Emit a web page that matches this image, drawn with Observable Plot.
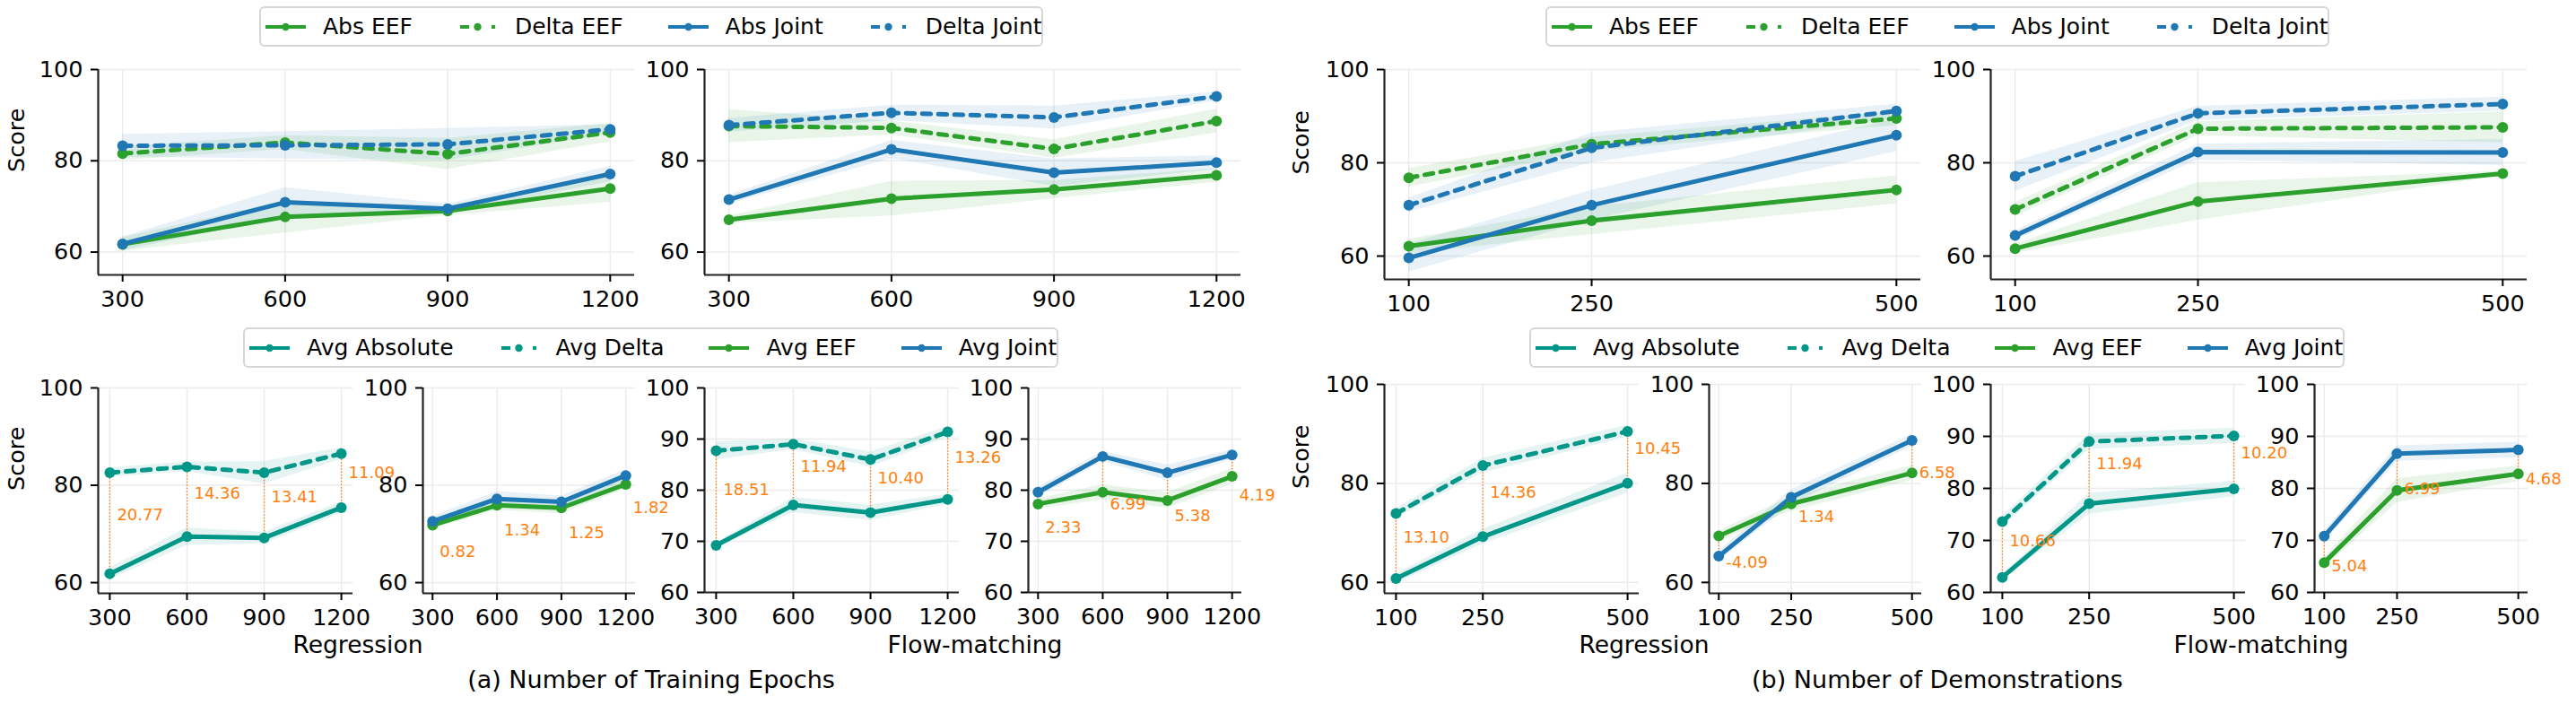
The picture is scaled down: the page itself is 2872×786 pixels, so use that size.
<!DOCTYPE html>
<html>
<head>
<meta charset="utf-8">
<script src="https://cdn.jsdelivr.net/npm/d3@7"></script>
<script src="https://cdn.jsdelivr.net/npm/@observablehq/plot@0.6"></script>
<style>
html,body{margin:0;padding:0;background:#fff;}
#root{position:relative;width:2872px;height:786px;overflow:hidden;font-family:"DejaVu Sans",sans-serif;color:#000;}
#root svg{overflow:visible !important;background:transparent !important;max-width:none !important;}
.legend{position:absolute;box-sizing:border-box;height:45px;border:2px solid #d6d6d6;border-radius:6px;background:#fff;display:flex;align-items:center;padding-left:5px;font-size:25px;white-space:nowrap;}
.legend svg{flex:none;}
.lbl{position:absolute;width:700px;text-align:center;line-height:1;white-space:nowrap;}
</style>
</head>
<body>
<div id="root"></div>
<script>
// ---------------- data ----------------
const epochs = [300, 600, 900, 1200];
const demos = [100, 250, 500];
const yTicksWide = [60, 80, 100];
const yTicksFine = [60, 70, 80, 90, 100];

// (a) training epochs — top row, Regression
const epRegAbsEEF = [61.7, 67.7, 69.0, 73.9];
const epRegAbsEEFSd = [1.5, 3.5, 1.0, 3.0];
const epRegDeltaEEF = [81.6, 84.0, 81.5, 86.2];
const epRegDeltaEEFSd = [1.5, 1.5, 3.4, 2.0];
const epRegAbsJoint = [61.8, 70.9, 69.5, 77.1];
const epRegAbsJointSd = [1.5, 3.2, 1.0, 1.7];
const epRegDeltaJoint = [83.3, 83.4, 83.6, 86.9];
const epRegDeltaJointSd = [2.5, 3.0, 3.5, 1.0];
// (a) top row, Flow-matching
const epFlowAbsEEF = [67.1, 71.7, 73.7, 76.8];
const epFlowAbsEEFSd = [0.8, 3.8, 2.0, 1.5];
const epFlowDeltaEEF = [87.6, 87.2, 82.6, 88.7];
const epFlowDeltaEEFSd = [3.6, 1.5, 2.0, 2.6];
const epFlowAbsJoint = [71.5, 82.5, 77.4, 79.6];
const epFlowAbsJointSd = [1.0, 2.0, 3.0, 1.5];
const epFlowDeltaJoint = [87.8, 90.5, 89.5, 94.1];
const epFlowDeltaJointSd = [1.5, 1.7, 2.5, 1.0];
// (b) demonstrations — top row, Regression
const dmRegAbsEEF = [62.1, 67.6, 74.2];
const dmRegAbsEEFSd = [1.5, 3.0, 3.0];
const dmRegDeltaEEF = [76.8, 84.0, 89.5];
const dmRegDeltaEEFSd = [2.0, 1.5, 1.5];
const dmRegAbsJoint = [59.6, 70.9, 85.9];
const dmRegAbsJointSd = [3.0, 3.2, 3.5];
const dmRegDeltaJoint = [70.9, 83.2, 91.1];
const dmRegDeltaJointSd = [1.5, 3.2, 1.5];
// (b) top row, Flow-matching
const dmFlowAbsEEF = [61.6, 71.7, 77.7];
const dmFlowAbsEEFSd = [1.0, 4.0, 0.5];
const dmFlowDeltaEEF = [70.0, 87.3, 87.6];
const dmFlowDeltaEEFSd = [1.5, 1.5, 3.3];
const dmFlowAbsJoint = [64.4, 82.3, 82.2];
const dmFlowAbsJointSd = [1.0, 1.7, 2.8];
const dmFlowDeltaJoint = [77.1, 90.6, 92.6];
const dmFlowDeltaJointSd = [3.2, 1.5, 1.5];

// bottom row averages
const epRegAvgAbs = [61.83, 69.44, 69.19, 75.41];
const epRegAvgAbsSd = [1.2, 1.8, 1.2, 1.2];
const epRegAvgDelta = [82.6, 83.8, 82.6, 86.5];
const epRegAvgDeltaSd = [1.0, 1.0, 2.3, 1.2];
const epRegAvgEEF = [71.8, 75.9, 75.35, 80.2];
const epRegAvgEEFSd = [0.8, 1.0, 1.2, 1.0];
const epRegAvgJoint = [72.6, 77.2, 76.6, 82.0];
const epRegAvgJointSd = [1.0, 1.5, 1.2, 1.2];
const epFlowAvgAbs = [69.2, 77.1, 75.6, 78.2];
const epFlowAvgAbsSd = [0.5, 1.5, 1.5, 1.0];
const epFlowAvgDelta = [87.7, 89.0, 86.0, 91.4];
const epFlowAvgDeltaSd = [1.8, 1.0, 1.5, 1.0];
const epFlowAvgEEF = [77.3, 79.6, 78.0, 82.7];
const epFlowAvgEEFSd = [1.0, 1.5, 1.5, 1.5];
const epFlowAvgJoint = [79.6, 86.6, 83.4, 86.9];
const epFlowAvgJointSd = [1.0, 1.0, 1.5, 1.0];

const dmRegAvgAbs = [60.8, 69.24, 80.05];
const dmRegAvgAbsSd = [1.0, 1.5, 2.0];
const dmRegAvgDelta = [73.9, 83.6, 90.5];
const dmRegAvgDeltaSd = [1.0, 1.5, 1.2];
const dmRegAvgEEF = [69.4, 75.86, 82.1];
const dmRegAvgEEFSd = [1.0, 1.5, 1.5];
const dmRegAvgJoint = [65.3, 77.2, 88.7];
const dmRegAvgJointSd = [1.0, 1.5, 1.2];
const dmFlowAvgAbs = [62.9, 77.05, 79.9];
const dmFlowAvgAbsSd = [0.5, 2.0, 1.5];
const dmFlowAvgDelta = [73.6, 89.0, 90.1];
const dmFlowAvgDeltaSd = [1.0, 1.5, 1.5];
const dmFlowAvgEEF = [65.75, 79.6, 82.8];
const dmFlowAvgEEFSd = [1.0, 2.3, 1.5];
const dmFlowAvgJoint = [70.8, 86.7, 87.4];
const dmFlowAvgJointSd = [1.0, 1.5, 1.5];

// annotated gaps
const epRegGapAD = [20.77, 14.36, 13.41, 11.09];
const epRegGapEJ = [0.82, 1.34, 1.25, 1.82];
const epFlowGapAD = [18.51, 11.94, 10.40, 13.26];
const epFlowGapEJ = [2.33, 6.99, 5.38, 4.19];
const dmRegGapAD = [13.10, 14.36, 10.45];
const dmRegGapEJ = [-4.09, 1.34, 6.58];
const dmFlowGapAD = [10.66, 11.94, 10.20];
const dmFlowGapEJ = [5.04, 6.99, 4.68];

// ---------------- styling ----------------
const GREEN = "#2ca02c", BLUE = "#1f77b4", TEAL = "#009688", ORANGE = "#ff7f0e";
const FONT = "DejaVu Sans";
const DASH = "9.5,8.5";
const root = document.getElementById("root");
const fmt2 = d3.formatLocale({decimal: ".", thousands: ",", grouping: [3], currency: ["", ""], minus: "-"}).format(".2f");

function mk(xs, ys, sds) {
  return xs.map((x, i) => ({x, y: ys[i], lo: ys[i] - sds[i], hi: ys[i] + sds[i]}));
}
function mkAnn(xs, lower, upper, gaps) {
  return xs.map((x, i) => ({x, a: lower[i], b: upper[i], v: gaps[i]}));
}

function panel({frame, xDomain, yDomain, xTicks, yTicks, series, ann, annOffset, scoreX}) {
  const [L, T, R, B] = frame;
  const mL = Math.min(L, 120), mR = 60, mT = 12, mB = 60;
  const grid = "#ececec";
  const marks = [
    Plot.ruleY(yTicks, {stroke: grid, strokeWidth: 1.5}),
    Plot.ruleX(xTicks, {stroke: grid, strokeWidth: 1.5})
  ];
  series.forEach(s => marks.push(Plot.areaY(s.data, {x: "x", y1: "lo", y2: "hi", fill: s.color, fillOpacity: 0.1})));
  if (ann) marks.push(Plot.ruleX(ann, {x: "x", y1: "a", y2: "b", stroke: ORANGE, strokeWidth: 1.3, strokeDasharray: "1.5,2"}));
  series.forEach(s => marks.push(Plot.line(s.data, Object.assign({x: "x", y: "y", stroke: s.color, strokeWidth: 5}, s.dashed ? {strokeDasharray: DASH} : {}))));
  series.forEach(s => marks.push(Plot.dot(s.data, {x: "x", y: "y", r: 6, fill: s.color})));
  if (ann) marks.push(Plot.text(ann, {x: "x", y: d => (d.a + d.b) / 2 + annOffset, text: d => fmt2(d.v), textAnchor: "start", dx: 8, fill: ORANGE, fontSize: 18}));
  marks.push(Plot.ruleX([xDomain[0]], {stroke: "#222", strokeWidth: 2.2}));
  marks.push(Plot.ruleY([yDomain[0]], {stroke: "#222", strokeWidth: 2.2}));
  marks.push(Plot.axisX({ticks: xTicks, tickSize: 8, tickPadding: 9, tickFormat: d => String(d), fontSize: 25.5, label: null, strokeWidth: 2}));
  marks.push(Plot.axisY({ticks: yTicks, tickSize: 8, tickPadding: 9, tickFormat: d => String(d), fontSize: 25.5, label: null, strokeWidth: 2}));
  if (scoreX != null) marks.push(Plot.text(["Score"], {frameAnchor: "left", text: d => d, rotate: -90, dx: scoreX - L, fontSize: 25.5, fill: "#000"}));
  const svg = Plot.plot({
    width: R - L + mL + mR, height: B - T + mT + mB,
    marginLeft: mL, marginRight: mR, marginTop: mT, marginBottom: mB,
    x: {domain: xDomain, label: null},
    y: {domain: yDomain, label: null},
    style: {fontFamily: FONT, fontSize: "25.5px", color: "#000", background: "transparent", overflow: "visible"},
    marks
  });
  svg.style.position = "absolute";
  svg.style.left = (L - mL) + "px";
  svg.style.top = (T - mT) + "px";
  root.appendChild(svg);
}

function legend(left, top, width, items) {
  const box = document.createElement("div");
  box.className = "legend";
  box.style.left = left + "px"; box.style.top = top + "px"; box.style.width = width + "px";
  items.forEach((it, i) => {
    const sw = d3.create("svg").attr("width", 46).attr("height", 20).style("margin-right", "18px");
    if (it.dashed) {
      sw.append("line").attr("x1", 3).attr("x2", 13).attr("y1", 10).attr("y2", 10).attr("stroke", it.color).attr("stroke-width", 4);
      sw.append("line").attr("x1", 38).attr("x2", 42).attr("y1", 10).attr("y2", 10).attr("stroke", it.color).attr("stroke-width", 4);
    } else {
      sw.append("line").attr("x1", 0).attr("x2", 45).attr("y1", 10).attr("y2", 10).attr("stroke", it.color).attr("stroke-width", 4);
    }
    sw.append("circle").attr("cx", 22.5).attr("cy", 10).attr("r", 4.2).attr("fill", it.color);
    box.appendChild(sw.node());
    const t = document.createElement("span");
    t.textContent = it.label;
    if (i < items.length - 1) t.style.marginRight = "50px";
    box.appendChild(t);
  });
  root.appendChild(box);
}

function label(text, cx, cy, size) {
  const d = document.createElement("div");
  d.className = "lbl";
  d.textContent = text;
  d.style.fontSize = size + "px";
  d.style.left = (cx - 350) + "px";
  d.style.top = (cy - size * 0.49) + "px";
  root.appendChild(d);
}

// ---------------- layout ----------------
const OFF = 1434;
const topItems = [
  {label: "Abs EEF", color: GREEN}, {label: "Delta EEF", color: GREEN, dashed: true},
  {label: "Abs Joint", color: BLUE}, {label: "Delta Joint", color: BLUE, dashed: true}
];
const botItems = [
  {label: "Avg Absolute", color: TEAL}, {label: "Avg Delta", color: TEAL, dashed: true},
  {label: "Avg EEF", color: GREEN}, {label: "Avg Joint", color: BLUE}
];

function topSeries(xs, aE, aESd, dE, dESd, aJ, aJSd, dJ, dJSd) {
  return [
    {data: mk(xs, aE, aESd), color: GREEN},
    {data: mk(xs, dE, dESd), color: GREEN, dashed: true},
    {data: mk(xs, aJ, aJSd), color: BLUE},
    {data: mk(xs, dJ, dJSd), color: BLUE, dashed: true}
  ];
}

const halves = [
  {
    off: 0, xs: epochs, xDomain: [255, 1245], topB: 306, botT: 432,
    reg: topSeries(epochs, epRegAbsEEF, epRegAbsEEFSd, epRegDeltaEEF, epRegDeltaEEFSd, epRegAbsJoint, epRegAbsJointSd, epRegDeltaJoint, epRegDeltaJointSd),
    flow: topSeries(epochs, epFlowAbsEEF, epFlowAbsEEFSd, epFlowDeltaEEF, epFlowDeltaEEFSd, epFlowAbsJoint, epFlowAbsJointSd, epFlowDeltaJoint, epFlowDeltaJointSd),
    avg: {
      regAbs: [epRegAvgAbs, epRegAvgAbsSd], regDelta: [epRegAvgDelta, epRegAvgDeltaSd],
      regEEF: [epRegAvgEEF, epRegAvgEEFSd], regJoint: [epRegAvgJoint, epRegAvgJointSd],
      flowAbs: [epFlowAvgAbs, epFlowAvgAbsSd], flowDelta: [epFlowAvgDelta, epFlowAvgDeltaSd],
      flowEEF: [epFlowAvgEEF, epFlowAvgEEFSd], flowJoint: [epFlowAvgJoint, epFlowAvgJointSd]
    },
    gaps: {regAD: epRegGapAD, regEJ: epRegGapEJ, flowAD: epFlowGapAD, flowEJ: epFlowGapEJ},
    ejOffset: -5.8, adOffset: 1.6,
    caption: "(a) Number of Training Epochs"
  },
  {
    off: OFF, xs: demos, xDomain: [80, 520], topB: 311, botT: 428,
    reg: topSeries(demos, dmRegAbsEEF, dmRegAbsEEFSd, dmRegDeltaEEF, dmRegDeltaEEFSd, dmRegAbsJoint, dmRegAbsJointSd, dmRegDeltaJoint, dmRegDeltaJointSd),
    flow: topSeries(demos, dmFlowAbsEEF, dmFlowAbsEEFSd, dmFlowDeltaEEF, dmFlowDeltaEEFSd, dmFlowAbsJoint, dmFlowAbsJointSd, dmFlowDeltaJoint, dmFlowDeltaJointSd),
    avg: {
      regAbs: [dmRegAvgAbs, dmRegAvgAbsSd], regDelta: [dmRegAvgDelta, dmRegAvgDeltaSd],
      regEEF: [dmRegAvgEEF, dmRegAvgEEFSd], regJoint: [dmRegAvgJoint, dmRegAvgJointSd],
      flowAbs: [dmFlowAvgAbs, dmFlowAvgAbsSd], flowDelta: [dmFlowAvgDelta, dmFlowAvgDeltaSd],
      flowEEF: [dmFlowAvgEEF, dmFlowAvgEEFSd], flowJoint: [dmFlowAvgJoint, dmFlowAvgJointSd]
    },
    gaps: {regAD: dmRegGapAD, regEJ: dmRegGapEJ, flowAD: dmFlowGapAD, flowEJ: dmFlowGapEJ},
    ejOffset: -3.3, adOffset: 1.7,
    caption: "(b) Number of Demonstrations"
  }
];

halves.forEach((h, k) => {
  const o = h.off;
  const scoreX = k === 0 ? 18 : 1450;
  legend(289 + o, 7, 874, topItems);
  panel({frame: [109 + o, 77, 707 + o, h.topB], xDomain: h.xDomain, yDomain: [55, 100], xTicks: h.xs, yTicks: yTicksWide, series: h.reg, scoreX});
  panel({frame: [785 + o, 77, 1383 + o, h.topB], xDomain: h.xDomain, yDomain: [55, 100], xTicks: h.xs, yTicks: yTicksWide, series: h.flow});
  legend(271 + o, 365, 909, botItems);
  const A = h.avg, xs = h.xs, T = h.botT;
  panel({frame: [109 + o, T, 393 + o, 661], xDomain: h.xDomain, yDomain: [57.8, 100], xTicks: xs, yTicks: yTicksWide, scoreX,
    series: [{data: mk(xs, ...A.regAbs), color: TEAL}, {data: mk(xs, ...A.regDelta), color: TEAL, dashed: true}],
    ann: mkAnn(xs, A.regAbs[0], A.regDelta[0], h.gaps.regAD), annOffset: h.adOffset});
  panel({frame: [471 + o, T, 708 + o, 661], xDomain: h.xDomain, yDomain: [57.8, 100], xTicks: xs, yTicks: yTicksWide,
    series: [{data: mk(xs, ...A.regEEF), color: GREEN}, {data: mk(xs, ...A.regJoint), color: BLUE}],
    ann: mkAnn(xs, A.regEEF[0], A.regJoint[0], h.gaps.regEJ), annOffset: h.ejOffset});
  panel({frame: [785 + o, T, 1069 + o, 660], xDomain: h.xDomain, yDomain: [60, 100], xTicks: xs, yTicks: yTicksFine,
    series: [{data: mk(xs, ...A.flowAbs), color: TEAL}, {data: mk(xs, ...A.flowDelta), color: TEAL, dashed: true}],
    ann: mkAnn(xs, A.flowAbs[0], A.flowDelta[0], h.gaps.flowAD), annOffset: h.adOffset});
  panel({frame: [1146 + o, T, 1384 + o, 660], xDomain: h.xDomain, yDomain: [60, 100], xTicks: xs, yTicks: yTicksFine,
    series: [{data: mk(xs, ...A.flowEEF), color: GREEN}, {data: mk(xs, ...A.flowJoint), color: BLUE}],
    ann: mkAnn(xs, A.flowEEF[0], A.flowJoint[0], h.gaps.flowEJ), annOffset: h.ejOffset});
  label("Regression", 399 + o, 719, 26.5);
  label("Flow-matching", 1087 + o, 719, 26.5);
  label(h.caption, 726 + o, 757, 27);
});
</script>
</body>
</html>
